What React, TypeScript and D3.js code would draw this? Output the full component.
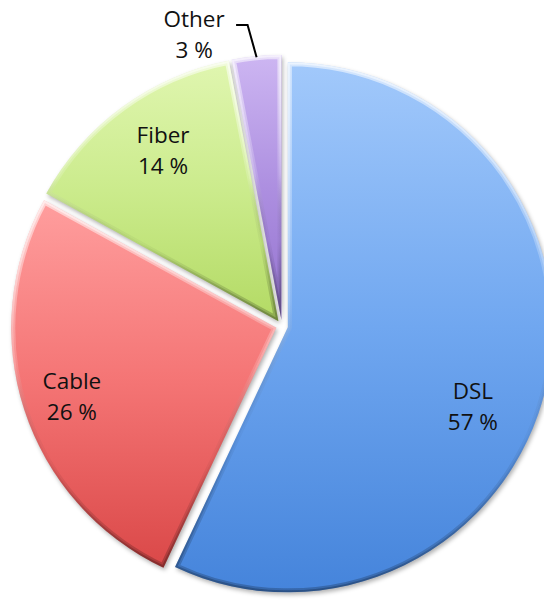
import React from 'react';
import * as d3 from 'd3';

const categories = ['DSL', 'Cable', 'Fiber', 'Other'];
const values = [57, 26, 14, 3];
const percentLabels = ['57 %', '26 %', '14 %', '3 %'];
const gradientTop = ['#a2c9fb', '#ff9e9e', '#e0f6b0', '#cdb6f2'];
const gradientMid = ['#70a7f0', '#f47474', '#cbeb8c', '#ad8fe0'];
const gradientBottom = ['#4584db', '#da4848', '#b3da64', '#9473cf'];

const W = 544;
const H = 601;
const CX = 282;
const CY = 326;
const R = 265;
const EXPLODE = 6;

// label layout: angle shift (radians) and radius factor
const labelShift = [0.18, -0.007, 0.035, -0.202];
const labelRadius = [0.758, 0.813, 0.779, 1.129];

export default function App() {
  const pie = d3.pie<number>().sort(null).value((d) => d);
  const arcs = pie(values);
  const arcGen = d3.arc<d3.PieArcDatum<number>>().innerRadius(0).outerRadius(R);

  const fontFamily = "'Open Sans', 'Noto Sans', sans-serif";

  const offsets = arcs.map((a) => {
    const mid = (a.startAngle + a.endAngle) / 2;
    return [CX + Math.sin(mid) * EXPLODE, CY - Math.cos(mid) * EXPLODE, mid];
  });

  return (
    <div style={{ position: 'absolute', left: 0, top: 0 }}>
      <svg width={W} height={H} viewBox={`0 0 ${W} ${H}`} style={{ display: 'block', background: '#fff' }}>
        <defs>
          {arcs.map((a, i) => (
            <linearGradient key={'g' + i} id={'grad' + i} x1="0" y1="0" x2="0" y2="1">
              <stop offset="0" stopColor={gradientTop[i]} />
              <stop offset="0.5" stopColor={gradientMid[i]} />
              <stop offset="1" stopColor={gradientBottom[i]} />
            </linearGradient>
          ))}
          <linearGradient id="bevel" x1="0" y1="0" x2="0" y2="1">
            <stop offset="0" stopColor="#ffffff" stopOpacity={0.55} />
            <stop offset="0.45" stopColor="#ffffff" stopOpacity={0.15} />
            <stop offset="0.7" stopColor="#000000" stopOpacity={0.03} />
            <stop offset="1" stopColor="#000000" stopOpacity={0.22} />
          </linearGradient>
          <filter id="soft" x="-10%" y="-10%" width="120%" height="120%">
            <feGaussianBlur stdDeviation={2.2} />
          </filter>
          {arcs.map((a, i) => (
            <clipPath key={'c' + i} id={'clip' + i}>
              <path d={arcGen(a) || ''} />
            </clipPath>
          ))}
        </defs>

        {/* shadows */}
        {arcs.map((a, i) => (
          <path
            key={'s' + i}
            d={arcGen(a) || ''}
            transform={`translate(${offsets[i][0] + 1.5},${offsets[i][1] + 2.5})`}
            fill="#000"
            fillOpacity={0.3}
            filter="url(#soft)"
          />
        ))}

        {arcs.map((a, i) => {
          const d = arcGen(a) || '';
          return (
            <g key={categories[i]} transform={`translate(${offsets[i][0]},${offsets[i][1]})`}>
              <path d={d} fill={`url(#grad${i})`} />
              <g clipPath={`url(#clip${i})`}>
                <path d={d} fill="none" stroke="url(#bevel)" strokeWidth={8} strokeLinejoin="round" />
                <path d={d} fill="none" stroke="url(#bevel)" strokeWidth={4} strokeLinejoin="round" />
              </g>
            </g>
          );
        })}

        {arcs.map((a, i) => {
          const [ox, oy, mid] = offsets[i];
          const ang = mid + labelShift[i];
          const rr = R * labelRadius[i];
          const lx = ox + Math.sin(ang) * rr;
          const ly = oy - Math.cos(ang) * rr;
          const outside = labelRadius[i] > 1;
          let leader: React.ReactNode = null;
          if (outside) {
            const px = ox + Math.sin(mid) * (R - 1);
            const py = oy - Math.cos(mid) * (R - 1);
            const ea = mid - 0.02;
            const ex = ox + Math.sin(ea) * (R + 32);
            const ey = oy - Math.cos(ea) * (R + 32);
            leader = (
              <polyline
                points={`${lx + 42},${ey} ${ex},${ey} ${px},${py}`}
                fill="none"
                stroke="#000"
                strokeWidth={2}
              />
            );
          }
          return (
            <g key={'l' + i}>
              {leader}
              <text x={lx} y={ly - 7} textAnchor="middle" fontFamily={fontFamily} fontSize={22.5} fill="#111">
                {categories[i]}
              </text>
              <text x={lx} y={ly + 24} textAnchor="middle" fontFamily={fontFamily} fontSize={22.5} fill="#111">
                {percentLabels[i]}
              </text>
            </g>
          );
        })}
      </svg>
    </div>
  );
}
